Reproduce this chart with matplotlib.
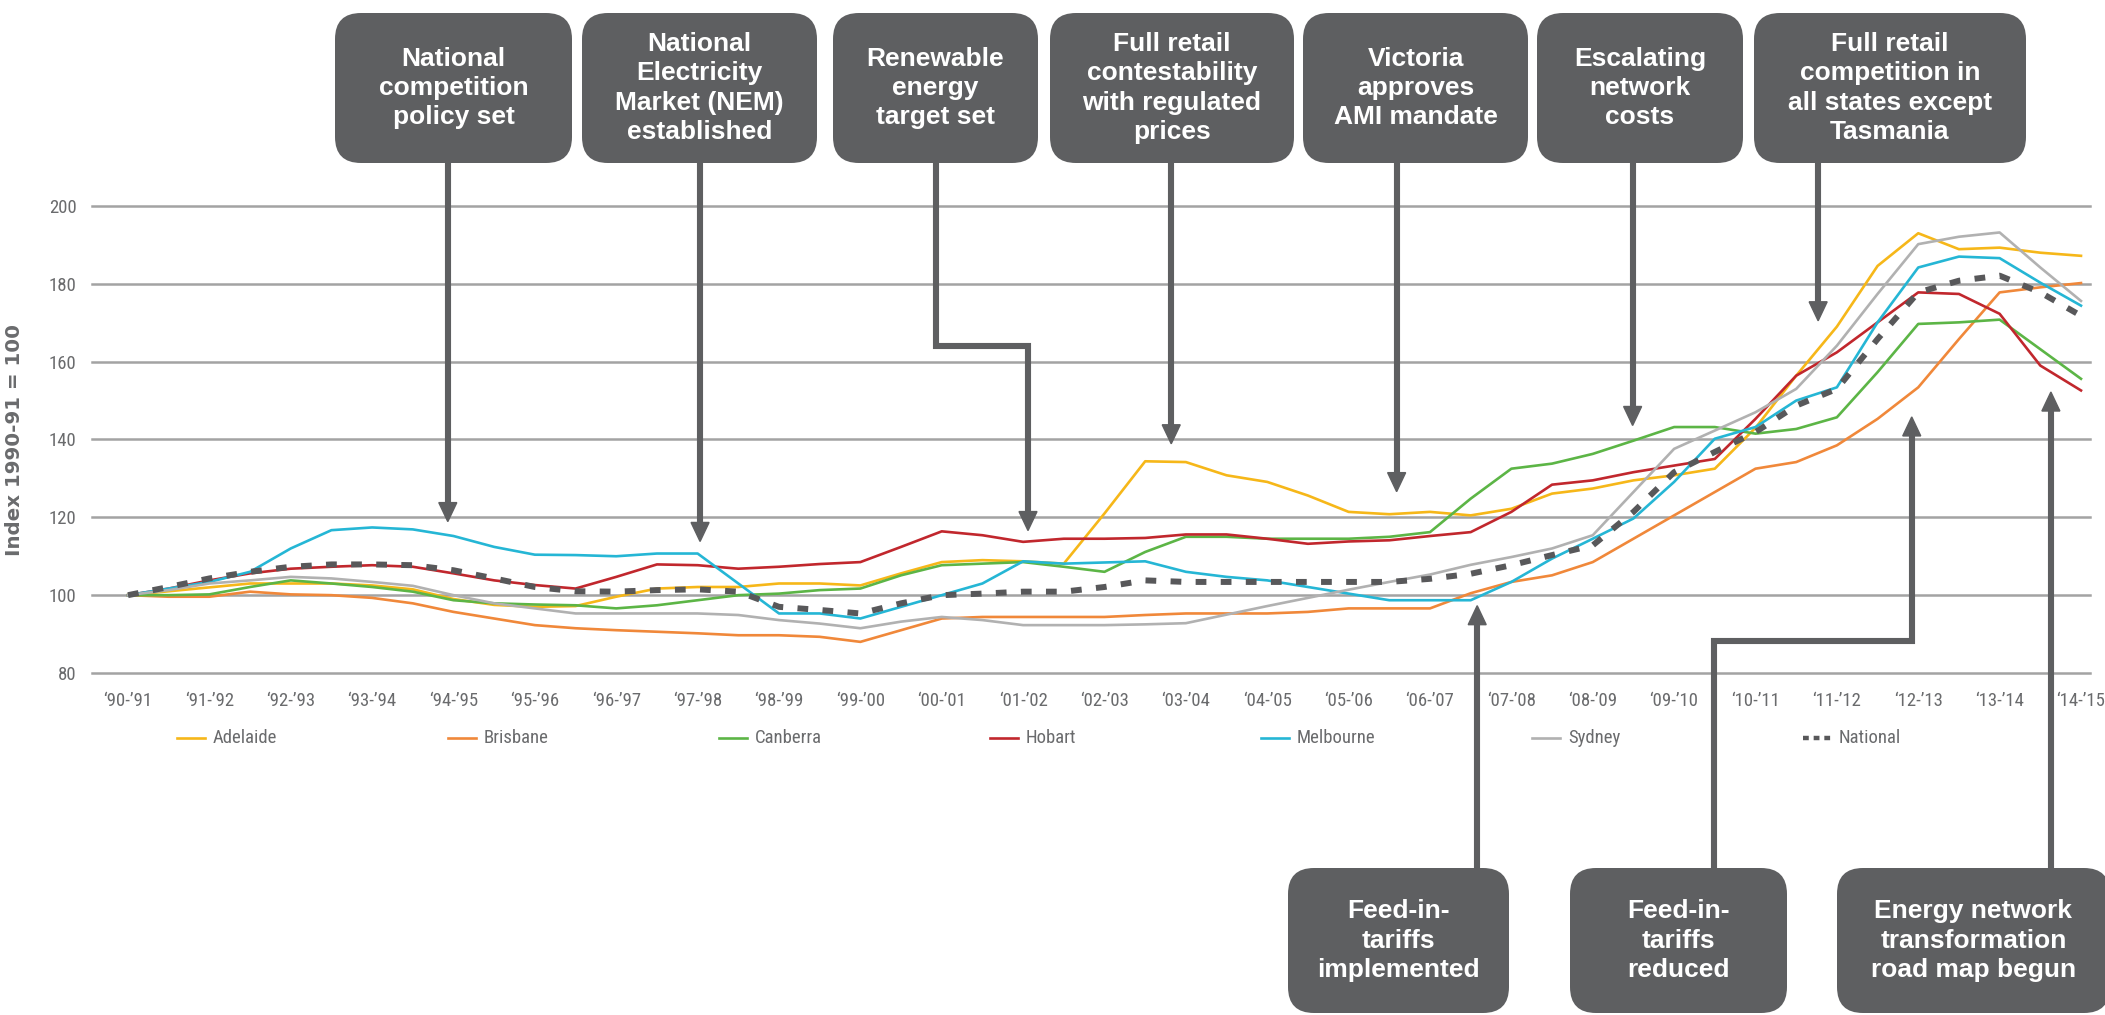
import matplotlib
matplotlib.use('Agg')
import matplotlib.pyplot as plt
from matplotlib import font_manager
from matplotlib.patches import FancyBboxPatch, Polygon
import numpy as np

# financial years, one tick each
years = ['‘90-’91', '‘91-’92', '‘92-’93', '‘93-’94', '‘94-’95', '‘95-’96', '‘96-’97',
         '‘97-’98', '‘98-’99', '‘99-’00', '‘00-’01', '‘01-’02', '‘02-’03', '‘03-’04',
         '‘04-’05', '‘05-’06', '‘06-’07', '‘07-’08', '‘08-’09', '‘09-’10', '‘10-’11',
         '‘11-’12', '‘12-’13', '‘13-’14', '‘14-’15']
# half-year steps (0 = '90-'91 ... 24 = '14-'15)
steps = np.arange(0, 24.5, 0.5)

adelaide = [100, 101, 102, 103, 103, 103, 102.5, 101.5, 99, 97.5, 97, 97.2, 99.6, 101.7, 102.1, 102.1,
            103, 103, 102.5, 105.6, 108.5, 109, 108.7, 108.1, 121, 134.4, 134.2, 130.8, 129.1, 125.6,
            121.4, 120.8, 121.4, 120.5, 122.2, 126.1, 127.4, 129.5, 130.8, 132.5, 143, 156.4, 169,
            184.6, 193, 188.9, 189.3, 188, 187.2]
brisbane = [100, 99.6, 99.6, 100.9, 100.2, 100, 99.3, 97.9, 95.7, 94, 92.3, 91.5, 91, 90.6, 90.2, 89.7,
            89.7, 89.3, 88, 91, 94, 94.4, 94.4, 94.4, 94.4, 94.9, 95.3, 95.3, 95.3, 95.7, 96.6, 96.6,
            96.6, 100.5, 103.4, 105.1, 108.5, 114.5, 120.5, 126.5, 132.5, 134.2, 138.5, 145.3, 153.4,
            165.8, 177.8, 179.1, 180.2]
canberra = [100, 100, 100.2, 102.1, 103.8, 103, 102.1, 100.9, 98.7, 97.9, 97.6, 97.4, 96.6, 97.4, 98.7,
            100, 100.4, 101.3, 101.7, 105.1, 107.7, 108.1, 108.5, 107.3, 106, 111.1, 115, 115, 114.5,
            114.5, 114.5, 115, 116.2, 124.8, 132.5, 133.8, 136.3, 139.7, 143.2, 143.2, 141.5, 142.7,
            145.7, 157.3, 169.7, 170.1, 170.8, 163.2, 155.6]
hobart = [100, 101.7, 103.8, 105.6, 106.8, 107.3, 107.7, 107.3, 105.6, 103.8, 102.6, 101.7, 104.7, 107.9,
          107.7, 106.8, 107.3, 108, 108.5, 112.4, 116.4, 115.4, 113.7, 114.5, 114.5, 114.7, 115.6, 115.6,
          114.5, 113.2, 113.8, 114.1, 115.2, 116.2, 121.4, 128.4, 129.5, 131.6, 133.3, 135, 145.3, 156.4,
          162.4, 170.1, 177.8, 177.4, 172.3, 159, 152.6]
melbourne = [100, 101.7, 103.4, 106, 112, 116.7, 117.4, 116.9, 115.2, 112.4, 110.4, 110.3, 110, 110.7,
             110.7, 103, 95.3, 95.3, 94, 97, 100, 103, 108.7, 108.1, 108.4, 108.7, 106, 104.7, 103.8,
             102.1, 100.4, 98.7, 98.7, 98.7, 103.4, 109.4, 114.5, 119.7, 129.1, 140.2, 143.2, 150,
             153.4, 170.1, 184.2, 187, 186.6, 180.3, 174.4]
sydney = [100, 101.3, 103, 103.8, 104.7, 104.3, 103.4, 102.4, 100, 97.9, 96.6, 95.3, 95.3, 95.3, 95.3,
          94.9, 93.6, 92.7, 91.5, 93.2, 94.4, 93.6, 92.3, 92.3, 92.3, 92.5, 92.8, 95, 97.2, 99.3, 101.4,
          103.4, 105.3, 107.8, 109.8, 112, 115.4, 126.5, 137.6, 142.3, 147, 153, 164.1, 177.4, 190.2,
          192.1, 193.2, 184.2, 175.6]
national = [100, 102.1, 104.3, 106, 107.3, 107.9, 107.9, 107.7, 106.4, 104.3, 102.1, 101, 100.9, 101.3,
            101.5, 100.9, 97, 96.2, 95.3, 97.9, 100, 100.4, 100.9, 100.9, 102.1, 103.8, 103.4, 103.4,
            103.4, 103.4, 103.4, 103.4, 104.2, 105.5, 107.7, 110.3, 112.8, 121.4, 131.6, 136.8, 141.9,
            148.7, 153, 165.8, 177.8, 180.8, 182.1, 177.8, 171.8]

series = [('Adelaide', adelaide, '#f6b719'),
          ('Brisbane', brisbane, '#f0883a'),
          ('Canberra', canberra, '#5cb546'),
          ('Hobart', hobart, '#c1272d'),
          ('Melbourne', melbourne, '#25b6d5'),
          ('Sydney', sydney, '#b1b1b1')]

# events: text, arrow x positions (year index), elbow value, tip value, box left/right (px)
top_notes = [
    ('National\ncompetition\npolicy set', [3.93], None, 118.9, 335, 572),
    ('National\nElectricity\nMarket (NEM)\nestablished', [7.03], None, 113.8, 582, 817),
    ('Renewable\nenergy\ntarget set', [9.93, 11.06], 164.0, 116.6, 833, 1038),
    ('Full retail\ncontestability\nwith regulated\nprices', [12.82], None, 138.9, 1050, 1294),
    ('Victoria\napproves\nAMI mandate', [15.59], None, 126.6, 1303, 1528),
    ('Escalating\nnetwork\ncosts', [18.49], None, 143.6, 1537, 1743),
    ('Full retail\ncompetition in\nall states except\nTasmania', [20.77], None, 170.5, 1754, 2026),
]
bottom_notes = [
    ('Feed-in-\ntariffs\nimplemented', [16.58], None, 97.3, 1288, 1509),
    ('Feed-in-\ntariffs\nreduced', [19.49, 21.92], 88.1, 145.8, 1570, 1787),
    ('Energy network\ntransformation\nroad map begun', [23.63], None, 152.2, 1837, 2110),
]

W, H = 2105, 1015
grey_txt = '#6a6b6d'
box_col = '#5e5f61'


def narrow_font():
    fl = font_manager.fontManager.ttflist
    for name in ['Liberation Sans Narrow', 'Roboto Condensed', 'Open Sans Condensed',
                 'Noto Sans Condensed', 'DejaVu Sans Condensed']:
        for f in fl:
            if f.name == name and f.style == 'normal' and f.weight in (400, 'normal', 'regular'):
                return font_manager.FontProperties(fname=f.fname), 13.5
    for f in fl:
        if (f.stretch in ('condensed', 'semi-condensed') and f.style == 'normal'
                and f.weight in (400, 'normal', 'regular')
                and 'Serif' not in f.name and 'Mono' not in f.name):
            return font_manager.FontProperties(fname=f.fname), 13.5
    return font_manager.FontProperties(family='Roboto'), 12.5


nfont, nsize = narrow_font()


def nf():
    p = nfont.copy()
    p.set_size(nsize)
    return p


fig = plt.figure(figsize=(W / 100, H / 100), dpi=100)
ax = fig.add_axes([92 / W, (H - 673) / H, (2090 - 92) / W, (673 - 206) / H])
ax.set_zorder(1)
unit = (2081 - 128) / 24
ax.set_xlim(-36 / unit, 24 + 9 / unit)
ax.set_ylim(80, 200)
for s in ax.spines.values():
    s.set_visible(False)
for v in range(80, 201, 20):
    ax.axhline(v, color='#a3a3a3', lw=1.8, zorder=0, clip_on=False)

for name, vals, col in series:
    ax.plot(steps, vals, color=col, lw=1.9, label=name, clip_on=False)
ax.plot(steps, national, color='#58585a', lw=4.3, dashes=(1.8, 2.4), label='National', clip_on=False)

ax.set_xticks(range(len(years)))
ax.set_xticklabels(years)
ax.set_yticks(range(80, 201, 20))
ax.tick_params(length=0, labelcolor=grey_txt)
ax.tick_params(axis='x', pad=14)
ax.tick_params(axis='y', pad=11)
for lab in ax.get_xticklabels() + ax.get_yticklabels():
    lab.set_fontproperties(nf())

# overlay in pixel coordinates for legend, notes and arrows
ov = fig.add_axes([0, 0, 1, 1])
ov.set_zorder(2)
ov.set_xlim(0, W)
ov.set_ylim(H, 0)
ov.axis('off')
ov.patch.set_alpha(0)

ov.text(15, 440, 'Index 1990-91 = 100', rotation=90, ha='center', va='center',
        fontsize=14.3, fontweight='bold', color=grey_txt, family='DejaVu Sans')

# legend row
leg_names = [s[0] for s in series] + ['National']
leg_cols = [s[2] for s in series] + ['#58585a']
for k, (nm, col) in enumerate(zip(leg_names, leg_cols)):
    x0 = 177 + k * 271
    if nm == 'National':
        ov.plot([x0, x0 + 28], [738, 738], color=col, lw=3.2, dashes=(1.3, 1.1))
    else:
        ov.plot([x0, x0 + 28], [738, 738], color=col, lw=1.9)
    ov.text(x0 + 36, 738, nm, ha='left', va='center', color=grey_txt, fontproperties=nf())


def px(x):
    return ax.transData.transform((x, 100))[0]


def py(v):
    return H - ax.transData.transform((0, v))[1]


def note(text, xs, elbow, tip, left, right, top, bottom, down):
    start = bottom if down else top
    pts = [(px(xs[0]), start)]
    if elbow is not None:
        pts += [(px(xs[0]), py(elbow)), (px(xs[-1]), py(elbow))]
    tx, ty = px(xs[-1]), py(tip)
    d = 1 if down else -1
    pts.append((tx, ty - 16 * d))
    ov.plot([p[0] for p in pts], [p[1] for p in pts], color=box_col, lw=4.4,
            solid_joinstyle='miter', solid_capstyle='butt', zorder=3)
    ov.add_patch(Polygon([(tx - 9, ty - 19 * d), (tx + 9, ty - 19 * d), (tx, ty)],
                         closed=True, color=box_col, zorder=3))
    ov.add_patch(FancyBboxPatch((left, top), right - left, bottom - top,
                                boxstyle='round,pad=0,rounding_size=26',
                                fc=box_col, ec='none', zorder=4))
    ov.text((left + right) / 2, (top + bottom) / 2, text, ha='center', va='center',
            color='white', fontsize=19, fontweight='bold', family='Liberation Sans',
            linespacing=1.27, zorder=5)


for t, xs, el, tip, l, r in top_notes:
    note(t, xs, el, tip, l, r, 13, 163, True)
for t, xs, el, tip, l, r in bottom_notes:
    note(t, xs, el, tip, l, r, 868, 1013, False)

fig.savefig('out.png', dpi=100, facecolor='white')
